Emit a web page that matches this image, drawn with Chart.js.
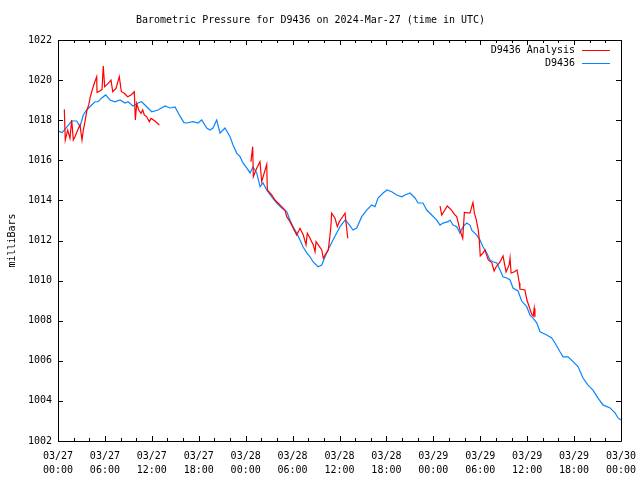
<!DOCTYPE html>
<html>
<head>
<meta charset="utf-8">
<title>Barometric Pressure D9436</title>
<script src="https://cdn.jsdelivr.net/npm/chart.js@4/dist/chart.umd.min.js"></script>
<style>
  html, body { margin: 0; padding: 0; background: #fff; }
  canvas { display: block; }
</style>
</head>
<body>
<canvas id="chart-pressure" width="640" height="480"></canvas>
<script>
/* ── data: hours since 03/27 00:00 UTC, pressure in millibars ── */
const tickDates = ['03/27', '03/27', '03/27', '03/27', '03/28', '03/28', '03/28', '03/28', '03/29', '03/29', '03/29', '03/29', '03/30'];
const tickTimes = ['00:00', '06:00', '12:00', '18:00', '00:00', '06:00', '12:00', '18:00', '00:00', '06:00', '12:00', '18:00', '00:00'];

const stationHours = [
  0, 0.55, 0.9, 1.75, 2.39, 2.81, 3.24, 3.67, 4.31, 4.73,
  5.12, 5.59, 6.1, 6.65, 7.29, 7.93, 8.57, 8.95, 9.59, 10.23,
  10.7, 11.34, 11.98, 12.79, 13.69, 14.32, 14.96, 15.6, 16.11, 16.46,
  17.27, 17.9, 18.38, 19.02, 19.44, 19.82, 20.3, 20.72, 21.36, 22.0,
  22.38, 22.85, 23.28, 23.66, 24.13, 24.56, 24.94, 25.41, 25.84, 26.22,
  26.69, 27.33, 27.97, 28.61, 29.25, 29.67, 30.05, 30.53, 30.95, 31.33,
  31.81, 32.23, 32.61, 33.25, 33.73, 34.15, 34.53, 35.17, 35.64, 36.07,
  36.71, 37.09, 37.73, 38.2, 38.84, 39.48, 40.12, 40.54, 40.93, 41.57,
  42.08, 42.68, 43.32, 43.96, 44.38, 45.02, 45.66, 46.04, 46.68, 47.15,
  47.79, 48.43, 48.86, 49.24, 49.88, 50.13, 50.52, 50.99, 51.41, 51.8,
  52.27, 52.69, 52.91, 53.55, 53.97, 54.35, 54.83, 55.25, 55.63, 56.11,
  56.53, 56.91, 57.39, 57.81, 58.19, 58.83, 59.3, 59.94, 60.37, 60.75,
  61.22, 61.64, 62.5, 63.14, 63.56, 64.2, 64.59, 65.23, 65.87, 66.5,
  67.14, 67.78, 68.42, 69.06, 69.7, 70.6, 71.24, 71.62, 72
];
const stationPressure = [
  1017.46, 1017.38, 1017.56, 1017.96, 1017.96, 1017.68, 1018.26, 1018.51, 1018.76, 1018.92,
  1018.92, 1019.11, 1019.26, 1019.01, 1018.92, 1019.01, 1018.86, 1018.92, 1018.71, 1018.86,
  1018.92, 1018.67, 1018.42, 1018.51, 1018.71, 1018.61, 1018.66, 1018.2, 1017.88, 1017.86,
  1017.93, 1017.86, 1018.01, 1017.61, 1017.51, 1017.61, 1018.01, 1017.36, 1017.61, 1017.18,
  1016.76, 1016.36, 1016.18, 1015.87, 1015.62, 1015.37, 1015.67, 1015.37, 1014.68, 1014.87,
  1014.52, 1014.18, 1013.87, 1013.62, 1013.44, 1013.02, 1012.69, 1012.37, 1012.02, 1011.69,
  1011.38, 1011.19, 1010.94, 1010.69, 1010.78, 1011.19, 1011.53, 1012.02, 1012.37, 1012.69,
  1013.02, 1012.87, 1012.52, 1012.62, 1013.19, 1013.52, 1013.77, 1013.69, 1014.12, 1014.37,
  1014.52, 1014.43, 1014.27, 1014.18, 1014.27, 1014.37, 1014.12, 1013.87, 1013.87, 1013.52,
  1013.27, 1013.02, 1012.77, 1012.87, 1012.94, 1013.02, 1012.77, 1012.69, 1012.37, 1012.69,
  1012.87, 1012.77, 1012.52, 1012.27, 1012.02, 1011.69, 1011.38, 1011.03, 1010.94, 1010.88,
  1010.53, 1010.19, 1010.13, 1010.03, 1009.63, 1009.48, 1008.98, 1008.7, 1008.28, 1008.13,
  1007.89, 1007.45, 1007.29, 1007.14, 1006.89, 1006.45, 1006.2, 1006.2, 1005.96, 1005.71,
  1005.14, 1004.79, 1004.54, 1004.14, 1003.8, 1003.65, 1003.4, 1003.15, 1003.05
];

// analysis comes in three runs with gaps between them
const analysisRun1Hours = [
  0.81, 0.93, 1.24, 1.53, 1.75, 1.96, 2.21, 2.52, 2.81, 3.07,
  3.24, 3.45, 3.71, 3.93, 4.13, 4.44, 4.64, 4.95, 4.99, 5.37,
  5.63, 5.79, 5.97, 6.36, 6.78, 7.0, 7.42, 7.84, 8.1, 8.48,
  8.91, 9.34, 9.76, 9.89, 10.07, 10.32, 10.62, 10.83, 11.04, 11.34,
  11.68, 11.89, 12.32, 12.96
];
const analysisRun1Pressure = [
  1018.54, 1017.01, 1017.51, 1017.10, 1018.01, 1017.01, 1017.21, 1017.51, 1017.76, 1017.01,
  1017.51, 1017.93, 1018.51, 1018.76, 1019.17, 1019.59, 1019.84, 1020.17, 1019.39, 1019.46,
  1019.54, 1020.70, 1019.67, 1019.81, 1020.0, 1019.42, 1019.59, 1020.17, 1019.42, 1019.34,
  1019.17, 1019.26, 1019.42, 1018.01, 1018.84, 1018.51, 1018.34, 1018.51, 1018.26, 1018.17,
  1017.93, 1018.09, 1017.98, 1017.76
];
const analysisRun2Hours = [
  24.68, 24.77, 24.9, 24.98, 25.41, 25.83, 26.05, 26.69, 26.77, 27.33,
  27.75, 28.17, 28.61, 29.03, 29.25, 29.67, 30.09, 30.53, 30.95, 31.37,
  31.72, 31.88, 32.23, 32.65, 32.87, 33.0, 33.29, 33.73, 33.93, 34.28,
  34.57, 34.88, 35.0, 35.43, 35.72, 35.98, 36.28, 36.71, 36.92, 37.05
];
const analysisRun2Pressure = [
  1015.93, 1016.26, 1016.68, 1015.18, 1015.6, 1015.93, 1014.93, 1015.8, 1014.52, 1014.27,
  1014.02, 1013.86, 1013.69, 1013.52, 1013.19, 1012.94, 1012.61, 1012.27, 1012.61, 1012.27,
  1011.78, 1012.36, 1012.11, 1011.78, 1011.44, 1011.94, 1011.78, 1011.53, 1011.11, 1011.36,
  1011.53, 1012.61, 1013.36, 1013.11, 1012.69, 1012.94, 1013.11, 1013.36, 1012.61, 1012.11
];
const analysisRun3Hours = [
  48.86, 49.07, 49.79, 50.35, 50.77, 50.99, 51.41, 51.76, 51.97, 52.69,
  52.91, 53.07, 53.26, 53.5, 53.75, 53.88, 54.0, 54.39, 54.61, 54.8,
  55.03, 55.47, 55.77, 56.02, 56.53, 56.91, 57.3, 57.69, 57.81, 57.94,
  58.32, 58.7, 59.0, 59.07, 59.71, 59.97, 60.23, 60.57, 60.77, 60.9,
  60.99
];
const analysisRun3Pressure = [
  1013.72, 1013.27, 1013.72, 1013.5, 1013.27, 1013.19, 1012.52, 1012.11, 1013.4, 1013.37,
  1013.69, 1013.89, 1013.36, 1013.02, 1012.52, 1012.02, 1011.23, 1011.4, 1011.53, 1011.28,
  1011.03, 1010.9, 1010.48, 1010.68, 1010.93, 1011.23, 1010.43, 1010.78, 1011.13, 1010.38,
  1010.43, 1010.53, 1009.88, 1009.58, 1009.53, 1009.03, 1008.73, 1008.33, 1008.23, 1008.62,
  1008.18
];

const FONT = '"DejaVu Sans Mono", "Liberation Mono", monospace';

function toPoints(hours, values) {
  return hours.map((h, i) => ({ x: h, y: values[i] }));
}

// null point between runs breaks the line
const analysisPoints = [
  ...toPoints(analysisRun1Hours, analysisRun1Pressure),
  { x: 18, y: null },
  ...toPoints(analysisRun2Hours, analysisRun2Pressure),
  { x: 43, y: null },
  ...toPoints(analysisRun3Hours, analysisRun3Pressure),
];
const stationPoints = toPoints(stationHours, stationPressure);

/* ── gnuplot-ish frame with inward ticks ── */
const frame = {
  id: 'frame',
  afterDatasetsDraw(chart) {
    const { ctx, chartArea: a, scales: { x, y } } = chart;
    ctx.save();
    ctx.strokeStyle = '#000';
    ctx.lineWidth = 1;
    ctx.beginPath();
    ctx.rect(a.left + 0.5, a.top + 0.5, a.right - a.left, a.bottom - a.top);
    for (let h = 0; h <= 72; h += 2) {
      const px = Math.round(x.getPixelForValue(h)) + 0.5;
      const len = h % 6 ? 3 : 5;
      ctx.moveTo(px, a.bottom);
      ctx.lineTo(px, a.bottom - len);
      ctx.moveTo(px, a.top);
      ctx.lineTo(px, a.top + len);
    }
    for (let p = 1002; p <= 1022; p += 2) {
      const py = Math.round(y.getPixelForValue(p)) + 0.5;
      ctx.moveTo(a.left, py);
      ctx.lineTo(a.left + 5, py);
      ctx.moveTo(a.right, py);
      ctx.lineTo(a.right - 5, py);
    }
    ctx.stroke();
    ctx.restore();
  },
};

/* ── key in the top right corner: text, then line sample ── */
const keyBox = {
  id: 'keyBox',
  afterDraw(chart) {
    const { ctx, chartArea: a } = chart;
    ctx.save();
    ctx.font = '10px ' + FONT;
    ctx.textAlign = 'right';
    ctx.textBaseline = 'middle';
    chart.data.datasets.forEach((ds, i) => {
      const yy = a.top + 10 + i * 13;
      ctx.fillStyle = '#000';
      ctx.fillText(ds.label, a.right - 46, yy);
      ctx.strokeStyle = ds.borderColor;
      ctx.lineWidth = 1;
      ctx.beginPath();
      ctx.moveTo(a.right - 39, yy + 0.5);
      ctx.lineTo(a.right - 11, yy + 0.5);
      ctx.stroke();
    });
    ctx.restore();
  },
};

const canvas = document.getElementById('chart-pressure');

new Chart(canvas, {
  type: 'line',
  data: {
    datasets: [
      {
        label: 'D9436 Analysis',
        data: analysisPoints,
        borderColor: '#ff0000',
        borderWidth: 1.2,
        pointRadius: 0,
        tension: 0,
        spanGaps: false,
      },
      {
        label: 'D9436',
        data: stationPoints,
        borderColor: '#0a84ff',
        borderWidth: 1.2,
        pointRadius: 0,
        tension: 0,
      },
    ],
  },
  options: {
    responsive: false,
    animation: false,
    events: [],
    layout: { padding: { left: 0, right: 19, top: 0, bottom: 0 } },
    plugins: {
      legend: { display: false },
      tooltip: { enabled: false },
      title: {
        display: true,
        text: 'Barometric Pressure for D9436 on 2024-Mar-27 (time in UTC)',
        color: '#000',
        font: { family: FONT, size: 10, weight: 'normal', lineHeight: 1.4 },
        padding: { top: 13, bottom: 13 },
      },
    },
    scales: {
      x: {
        type: 'linear',
        min: 0,
        max: 72,
        grid: { display: false, drawTicks: false },
        border: { display: false },
        ticks: {
          stepSize: 6,
          autoSkip: false,
          maxRotation: 0,
          padding: 8,
          color: '#000',
          font: { family: FONT, size: 10, lineHeight: 1.4 },
          callback: (v) => {
            const i = Math.round(v / 6);
            return [tickDates[i], tickTimes[i]];
          },
        },
        afterFit: (s) => {
          s.height = 39;
          s.paddingLeft = 0;
          s.paddingRight = 0;
        },
      },
      y: {
        min: 1002,
        max: 1022,
        grid: { display: false, drawTicks: false },
        border: { display: false },
        ticks: {
          stepSize: 2,
          padding: 6,
          color: '#000',
          font: { family: FONT, size: 10 },
          callback: (v) => String(v),
        },
        title: {
          display: true,
          text: 'milliBars',
          color: '#000',
          font: { family: FONT, size: 10, lineHeight: 1.2 },
          padding: { top: 6, bottom: 0 },
        },
        afterFit: (s) => { s.width = 58; },
      },
    },
  },
  plugins: [frame, keyBox],
});
</script>
</body>
</html>
